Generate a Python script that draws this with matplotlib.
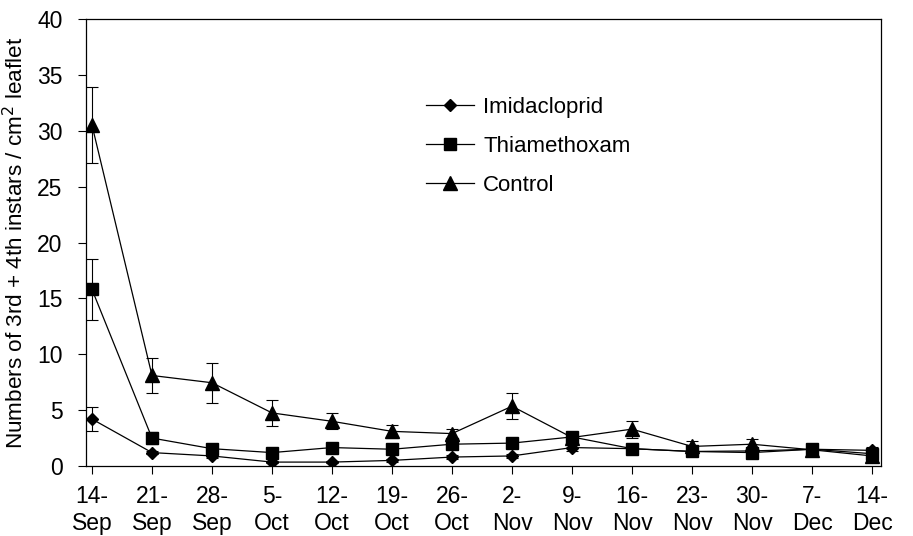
import numpy as np
import matplotlib
matplotlib.use('Agg')
import matplotlib.pyplot as plt

# Data
dates = ['14-\nSep', '21-\nSep', '28-\nSep', '5-\nOct', '12-\nOct', '19-\nOct', '26-\nOct',
         '2-\nNov', '9-\nNov', '16-\nNov', '23-\nNov', '30-\nNov', '7-\nDec', '14-\nDec']

imidacloprid = [4.2, 1.2, 0.9, 0.35, 0.35, 0.5, 0.8, 0.9, 1.65, 1.55, 1.3, 1.35, 1.5, 1.4]
imidacloprid_err = [1.1, 0.15, 0.15, 0.1, 0.1, 0.1, 0.15, 0.15, 0.3, 0.15, 0.15, 0.15, 0.15, 0.3]

thiamethoxam = [15.8, 2.5, 1.55, 1.2, 1.65, 1.5, 1.95, 2.05, 2.6, 1.55, 1.3, 1.2, 1.5, 1.1]
thiamethoxam_err = [2.7, 0.5, 0.25, 0.25, 0.25, 0.25, 0.25, 0.25, 0.3, 0.25, 0.2, 0.2, 0.3, 0.25]

control = [30.5, 8.1, 7.45, 4.75, 4.0, 3.1, 2.9, 5.35, 2.55, 3.3, 1.75, 1.95, 1.45, 0.9]
control_err = [3.4, 1.55, 1.8, 1.15, 0.7, 0.55, 0.45, 1.15, 0.35, 0.75, 0.5, 0.5, 0.25, 0.3]


def main():
    plt.rcParams['font.family'] = ['Liberation Sans', 'DejaVu Sans']

    fig = plt.figure(figsize=(9.13, 5.36), dpi=100)
    ax = fig.add_axes([86 / 913, 70 / 536, 795 / 913, 447 / 536])

    x = np.arange(len(dates))
    lw = 0.9
    eb = dict(ecolor='black', elinewidth=0.8, capsize=4.5, capthick=0.8)

    ax.errorbar(x, imidacloprid, yerr=imidacloprid_err, color='black', lw=lw,
                marker='D', ms=6.5, label='Imidacloprid', **eb)
    ax.errorbar(x, thiamethoxam, yerr=thiamethoxam_err, color='black', lw=lw,
                marker='s', ms=8, label='Thiamethoxam', **eb)
    ax.errorbar(x, control, yerr=control_err, color='black', lw=lw,
                marker='^', ms=9.5, label='Control', **eb)

    ax.set_ylim(0, 40)
    ax.set_yticks(np.arange(0, 41, 5))
    ax.set_xlim(-0.1, 13.15)
    ax.set_xticks(x)
    ax.set_xticklabels(dates, linespacing=1.2)

    ax.tick_params(axis='both', direction='out', length=6, width=0.8,
                   labelsize=16.5, colors='black')
    ax.tick_params(axis='y', pad=11)
    ax.tick_params(axis='x', pad=8)
    for s in ax.spines.values():
        s.set_linewidth(0.9)

    ax.set_ylabel('Numbers of 3rd + 4th instars / cm$^2$ leaflet', fontsize=16.2)
    ax.yaxis.set_label_coords(-58 / 795, 0.5)

    handles, labels = ax.get_legend_handles_labels()
    handles = [h[0] for h in handles]
    ax.legend(handles, labels, loc='upper left', bbox_to_anchor=(0.402, 0.87),
              frameon=False, fontsize=16, handlelength=2.2, handletextpad=0.4,
              labelspacing=0.8)

    fig.savefig('out.png', dpi=100)


if __name__ == '__main__':
    main()
